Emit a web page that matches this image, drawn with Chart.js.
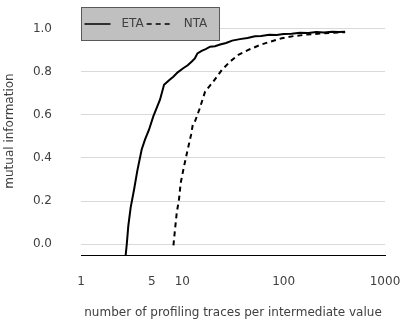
<!DOCTYPE html>
<html>
<head>
<meta charset="utf-8">
<script src="https://cdn.jsdelivr.net/npm/chart.js@4/dist/chart.umd.min.js"></script>
<style>
    html, body { margin: 0; padding: 0; background: #fff; }
    #wrap { width: 401px; height: 320px; }
</style>
</head>
<body>
<div id="wrap"><canvas id="grafica" width="401" height="320"></canvas></div>
<script>
// traces per intermediate value (x) and mutual information (y)
const etaTrazas = [2.76, 2.83, 2.93, 3.09, 3.34, 3.59, 3.97, 4.28, 4.69, 5.17, 6.02, 6.6, 7.4, 8.15, 9.0, 10.2, 11.3, 12.4, 13.3, 14.1, 15.5, 17.0, 18.8, 21, 23.6, 27, 31, 37, 44, 52, 60, 72, 85, 100, 120, 145, 175, 210, 250, 300, 350, 404];
const etaInfo = [-0.05, 0.0, 0.085, 0.17, 0.254, 0.339, 0.439, 0.485, 0.531, 0.593, 0.67, 0.739, 0.76, 0.777, 0.797, 0.816, 0.83, 0.847, 0.862, 0.885, 0.897, 0.905, 0.916, 0.918, 0.926, 0.933, 0.944, 0.951, 0.956, 0.964, 0.966, 0.971, 0.970, 0.975, 0.976, 0.981, 0.979, 0.984, 0.982, 0.985, 0.984, 0.985];

const ntaTrazas = [8.17, 8.47, 8.81, 9.27, 9.64, 10.4, 11.2, 12.2, 12.7, 13.3, 14.7, 16.8, 20.2, 24.5, 29.6, 35.7, 44.8, 58.5, 73.4, 95.7, 125, 170, 229, 300, 404];
const ntaInfo = [-0.005, 0.069, 0.146, 0.208, 0.285, 0.362, 0.431, 0.508, 0.556, 0.568, 0.624, 0.708, 0.754, 0.808, 0.847, 0.878, 0.901, 0.924, 0.939, 0.955, 0.965, 0.972, 0.977, 0.980, 0.983];

const etiquetasX = [1, 5, 10, 100, 1000];
const etiquetasY = [0.0, 0.2, 0.4, 0.6, 0.8, 1.0];

const colorTexto = '#404040';
const fuente = '"DejaVu Sans", sans-serif';

function puntos(xs, ys) {
    return xs.map((x, i) => ({ x: x, y: ys[i] }));
}

// legend box in the top left corner of the plot, drawn over the grid
const leyendaCaja = {
    id: 'leyendaCaja',
    beforeDatasetsDraw(chart) {
        const ctx = chart.ctx;
        const area = chart.chartArea;
        const left = area.left + 0.5;
        const top = area.top + 0.5;
        const w = 138, h = 33;
        ctx.save();
        ctx.fillStyle = '#c0c0c0';
        ctx.fillRect(left, top, w, h);
        ctx.strokeStyle = '#595959';
        ctx.lineWidth = 1;
        ctx.strokeRect(left, top, w, h);

        const cy = top + h / 2;
        ctx.font = '12px ' + fuente;
        ctx.fillStyle = colorTexto;
        ctx.textBaseline = 'middle';
        let x = left + 3;
        chart.data.datasets.forEach((ds) => {
            ctx.beginPath();
            ctx.setLineDash(ds.borderDash || []);
            ctx.strokeStyle = ds.borderColor;
            ctx.lineWidth = 1.5;
            ctx.moveTo(x, cy);
            ctx.lineTo(x + 26, cy);
            ctx.stroke();
            ctx.setLineDash([]);
            ctx.fillText(ds.label, x + 37, cy);
            x += 37 + ctx.measureText(ds.label).width + 3;
        });
        ctx.restore();
    }
};

const ctx = document.getElementById('grafica').getContext('2d');
new Chart(ctx, {
    type: 'line',
    data: {
        datasets: [
            {
                label: 'ETA',
                data: puntos(etaTrazas, etaInfo),
                borderColor: '#000000',
                borderWidth: 2,
                pointRadius: 0,
                tension: 0
            },
            {
                label: 'NTA',
                data: puntos(ntaTrazas, ntaInfo),
                borderColor: '#000000',
                borderWidth: 2,
                borderDash: [5, 4],
                pointRadius: 0,
                tension: 0
            }
        ]
    },
    options: {
        responsive: false,
        animation: false,
        layout: { padding: { top: 7, right: 16, left: 0, bottom: 0 } },
        plugins: {
            legend: { display: false },
            tooltip: { enabled: false }
        },
        scales: {
            x: {
                type: 'logarithmic',
                min: 1,
                max: 1000,
                afterBuildTicks: (scale) => {
                    scale.ticks = etiquetasX.map(v => ({ value: v }));
                },
                afterFit: (scale) => {
                    // keep the label gap from widening the side margins
                    scale.height = 65;
                    scale.paddingLeft = 0;
                    scale.paddingRight = 14;
                },
                grid: { display: false, drawTicks: false },
                border: { display: true, color: '#000000', width: 1 },
                ticks: {
                    padding: 20,
                    color: colorTexto,
                    font: { family: fuente, size: 12 },
                    autoSkip: false,
                    maxRotation: 0,
                    callback: (v) => String(v)
                },
                title: {
                    display: true,
                    text: 'number of profiling traces per intermediate value',
                    color: colorTexto,
                    font: { family: fuente, size: 12 },
                    padding: { top: 0, bottom: 0 }
                }
            },
            y: {
                min: -0.05,
                max: 1.1,
                afterBuildTicks: (scale) => {
                    scale.ticks = etiquetasY.map(v => ({ value: v }));
                },
                afterFit: (scale) => {
                    scale.width = 81;
                    scale.paddingTop = 0;
                    scale.paddingBottom = 0;
                },
                grid: { color: '#d9d9d9', lineWidth: 1, drawTicks: false },
                border: { display: false },
                ticks: {
                    padding: 29,
                    color: colorTexto,
                    font: { family: fuente, size: 12 },
                    callback: (v) => Number(v).toFixed(1)
                },
                title: {
                    display: true,
                    text: 'mutual information',
                    color: colorTexto,
                    font: { family: fuente, size: 12 },
                    padding: { top: 3, bottom: 0 }
                }
            }
        }
    },
    plugins: [leyendaCaja]
});
</script>
</body>
</html>
